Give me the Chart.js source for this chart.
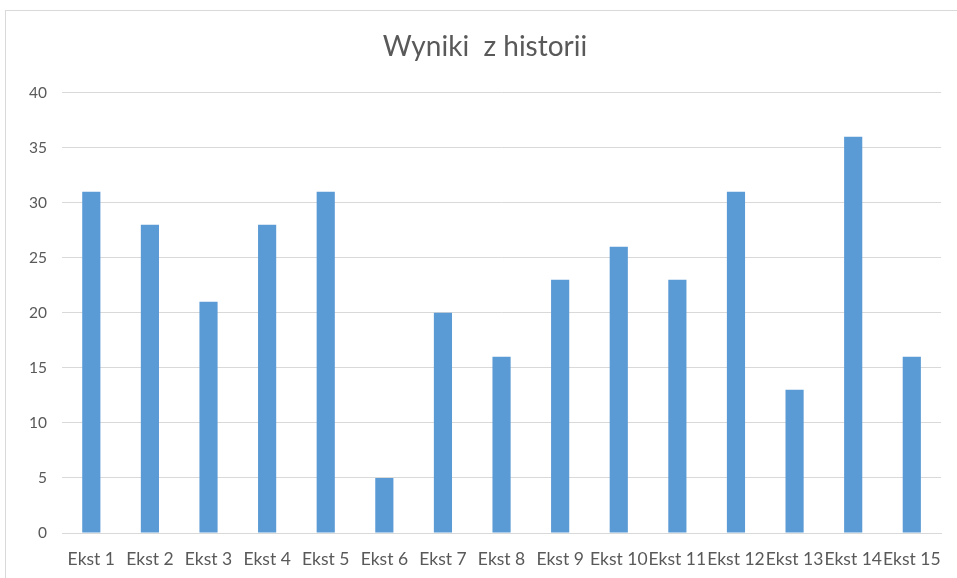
<!DOCTYPE html>
<html>
<head>
<meta charset="utf-8">
<script src="https://cdn.jsdelivr.net/npm/chart.js@4"></script>
<style>
  html, body { margin: 0; padding: 0; background: #fff; }
  #frame {
    position: absolute; left: 5px; top: 10px; width: 970px; height: 600px;
    border: 1px solid #d9d9d9; box-sizing: border-box;
  }
  #wrap { position: absolute; left: 0; top: 0; width: 957px; height: 578px; }
</style>
</head>
<body>
<div id="frame"></div>
<div id="wrap"><canvas id="chart"></canvas></div>
<script>
// Chart data
const categories = ['Ekst 1', 'Ekst 2', 'Ekst 3', 'Ekst 4', 'Ekst 5', 'Ekst 6', 'Ekst 7', 'Ekst 8',
                    'Ekst 9', 'Ekst 10', 'Ekst 11', 'Ekst 12', 'Ekst 13', 'Ekst 14', 'Ekst 15'];
const scores = [31, 28, 21, 28, 31, 5, 20, 16, 23, 26, 23, 31, 13, 36, 16];
const chartTitle = 'Wyniki  z historii';

const textColor = '#595959';
const gridColor = '#d9d9d9';

const ctx = document.getElementById('chart').getContext('2d');

new Chart(ctx, {
    type: 'bar',
    data: {
        labels: categories,
        datasets: [{
            label: 'Wyniki',
            data: scores,
            backgroundColor: '#5b9bd5',
            borderWidth: 0,
            categoryPercentage: 1,
            barPercentage: 0.31
        }]
    },
    options: {
        responsive: true,
        maintainAspectRatio: false,
        animation: false,
        // left padding keeps the title centred on the framed box
        layout: { padding: { left: 26, right: 13, top: 0, bottom: 0 } },
        plugins: {
            legend: { display: false },
            tooltip: { enabled: false },
            title: {
                display: true,
                text: chartTitle,
                color: textColor,
                font: { family: 'Lato', size: 28, weight: 'normal' },
                padding: { top: 30, bottom: 29 }
            }
        },
        scales: {
            x: {
                grid: { display: false, drawTicks: false },
                border: { color: gridColor, width: 1 },
                ticks: {
                    color: textColor,
                    font: { family: 'Lato', size: 17.5 },
                    maxRotation: 0,
                    minRotation: 0,
                    autoSkip: false,
                    padding: 16
                },
                afterFit: (scale) => { scale.height = 45; }
            },
            y: {
                min: 0,
                max: 40,
                ticks: {
                    stepSize: 5,
                    color: textColor,
                    font: { family: 'Lato', size: 15.5 },
                    padding: 15
                },
                grid: { color: gridColor, drawTicks: false },
                border: { display: false },
                afterFit: (scale) => { scale.width = 36; }
            }
        }
    }
});
</script>
</body>
</html>
